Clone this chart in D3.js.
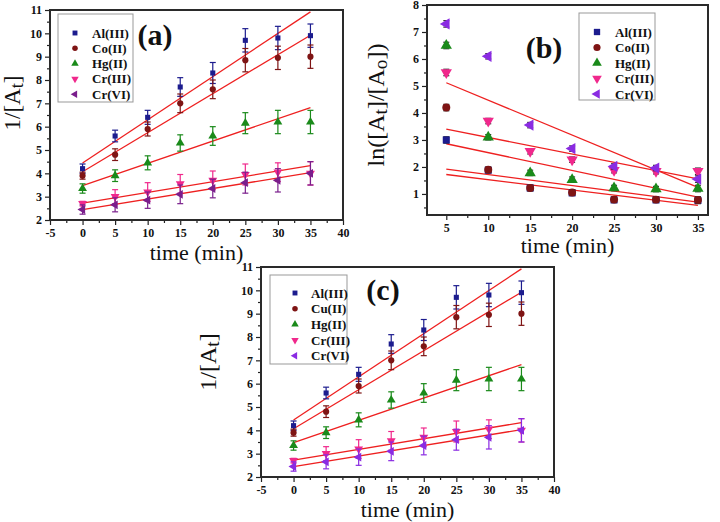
<!DOCTYPE html>
<html>
<head>
<meta charset="utf-8">
<script src="https://cdn.jsdelivr.net/npm/d3@7"></script>
<style>
  body { margin: 0; background: #fff; }
  svg text { font-family: "Liberation Serif", "DejaVu Serif", serif; }
</style>
</head>
<body>
<svg id="chart" width="720" height="522"></svg>
<script>
// ---- data ----
const times = [0, 5, 10, 15, 20, 25, 30, 35];
const timesB = [5, 10, 15, 20, 25, 30, 35];

const namesA = ["Al(III)", "Co(II)", "Hg(II)", "Cr(III)", "Cr(VI)"];
const namesC = ["Al(III)", "Cu(II)", "Hg(II)", "Cr(III)", "Cr(VI)"];

// 1/[At]  (panels a and c)
const invAl  = [4.2, 5.6, 6.4, 7.7, 8.3, 9.7, 9.8, 9.9];
const invCo  = [3.9, 4.8, 5.9, 7.0, 7.6, 8.85, 8.95, 9.0];
const invHg  = [3.35, 3.9, 4.45, 5.3, 5.6, 6.15, 6.2, 6.2];
const invCr3 = [2.7, 3.0, 3.2, 3.55, 3.7, 3.95, 4.05, 4.0];
const invCr6 = [2.45, 2.65, 2.85, 3.1, 3.35, 3.6, 3.7, 4.0];

const errAl  = [0.2, 0.25, 0.3, 0.4, 0.45, 0.5, 0.5, 0.5];
const errCo  = [0.15, 0.25, 0.3, 0.4, 0.4, 0.5, 0.5, 0.5];
const errHg  = [0.2, 0.25, 0.3, 0.35, 0.4, 0.45, 0.5, 0.5];
const errCr3 = [0.1, 0.3, 0.4, 0.4, 0.4, 0.45, 0.4, 0.5];
const errCr6 = [0.2, 0.3, 0.35, 0.4, 0.4, 0.45, 0.5, 0.5];

// fitted lines: value at t = 0 and t = 35
const fitStartA = [4.44, 4.07, 3.47, 2.72, 2.44];
const fitEndA   = [10.92, 9.92, 6.82, 4.33, 4.03];

// ln([At]/[Ao])  (panel b)
const lnAl  = [3.0, 1.88, 1.22, 1.04, 0.78, 0.78, 0.76];
const lnCo  = [4.2, 1.9, 1.22, 1.05, 0.79, 0.79, 0.78];
const lnHg  = [6.5, 3.1, 1.78, 1.53, 1.22, 1.18, 1.2];
const lnCr3 = [5.5, 3.7, 2.58, 2.27, 1.88, 1.84, 1.84];
const lnCr6 = [7.3, 6.1, 3.55, 2.68, 2.02, 1.96, 1.55];
const errB  = [0.12, 0.1, 0.1, 0.1, 0.1, 0.1, 0.12];

// fitted lines: value at t = 5 and t = 35
const fitStartB = [1.72, 1.92, 2.86, 3.4, 5.12];
const fitEndB   = [0.58, 0.7, 0.88, 1.56, 1.24];

// ---- styling ----
const colorsAC = ["#1c1c8e", "#7e1414", "#1a8a1a", "#f0288c", "#7a1e8c"];
const colorsC  = ["#1c1c8e", "#7e1414", "#1a8a1a", "#f0288c", "#8a2be2"];
const colorsB  = ["#1c1c8e", "#7e1414", "#1a8a1a", "#f0288c", "#8a2be2"];
const symbols = [
  {type: d3.symbolSquare, rot: 0},
  {type: d3.symbolCircle, rot: 0},
  {type: d3.symbolTriangle, rot: 0},
  {type: d3.symbolTriangle, rot: 180},
  {type: d3.symbolTriangle, rot: -90}
];

const svg = d3.select("#chart");
const fmt = d => String(d);   // plain hyphen for negatives, like the original

function drawPanel(p) {
  const g = svg.append("g").attr("transform", `translate(${p.x},${p.y})`);
  const x = d3.scaleLinear().domain(p.xDomain).range([0, p.w]);
  const y = d3.scaleLinear().domain(p.yDomain).range([p.h, 0]);

  // minor ticks
  const xAxisMinor = d3.axisBottom(x).tickValues(p.xMinor).tickSize(3).tickFormat("");
  const yAxisMinor = d3.axisLeft(y).tickValues(p.yMinor).tickSize(3).tickFormat("");
  g.append("g").attr("transform", `translate(0,${p.h})`).call(xAxisMinor)
    .call(a => a.select(".domain").remove());
  g.append("g").call(yAxisMinor).call(a => a.select(".domain").remove());

  const xAxis = d3.axisBottom(x).tickValues(p.xTicks).tickSize(5).tickPadding(3).tickFormat(fmt);
  const yAxis = d3.axisLeft(y).tickValues(p.yTicks).tickSize(5).tickPadding(3).tickFormat(fmt);
  const xa = g.append("g").attr("transform", `translate(0,${p.h})`).call(xAxis);
  const ya = g.append("g").call(yAxis);
  [xa, ya].forEach(a => {
    a.select(".domain").remove();
    a.selectAll(".tick text")
      .attr("fill", "#111")
      .style("font-size", "12px")
      .style("font-weight", "bold");
  });
  g.selectAll(".tick line").attr("stroke", "#222").attr("stroke-width", 1.2);

  // fit lines
  g.selectAll(".fit")
    .data(p.fits)
    .enter()
    .append("line")
    .attr("x1", d => x(d.t0)).attr("y1", d => y(d.v0))
    .attr("x2", d => x(d.t1)).attr("y2", d => y(d.v1))
    .attr("stroke", "#ee2020")
    .attr("stroke-width", 1.3);

  // error bars and markers
  p.series.forEach((s, i) => {
    const sg = g.append("g");
    const pts = s.t.map((t, k) => ({t: t, v: s.v[k], e: s.e[k]}));
    const ec = p.errColor || s.color;
    pts.forEach(d => {
      sg.append("line")
        .attr("x1", x(d.t)).attr("x2", x(d.t))
        .attr("y1", y(d.v - d.e)).attr("y2", y(d.v + d.e))
        .attr("stroke", ec).attr("stroke-width", 1.2);
      [d.v - d.e, d.v + d.e].forEach(c => {
        sg.append("line")
          .attr("x1", x(d.t) - p.cap).attr("x2", x(d.t) + p.cap)
          .attr("y1", y(c)).attr("y2", y(c))
          .attr("stroke", ec).attr("stroke-width", 1.2);
      });
    });
    sg.selectAll("path")
      .data(pts)
      .enter()
      .append("path")
      .attr("d", d3.symbol().type(symbols[i].type).size(p.symSize[i]))
      .attr("transform", d => `translate(${x(d.t)},${y(d.v)}) rotate(${symbols[i].rot})`)
      .attr("fill", s.color);
  });

  // frame
  g.append("rect")
    .attr("width", p.w).attr("height", p.h)
    .attr("fill", "none").attr("stroke", "#2a2a2a").attr("stroke-width", 2);

  // legend
  const lg = g.append("g").attr("transform", `translate(${p.legend.x},${p.legend.y})`);
  lg.append("rect")
    .attr("width", p.legend.w).attr("height", p.legend.h)
    .attr("fill", "#fff").attr("stroke", "#999").attr("stroke-width", 1);
  p.series.forEach((s, i) => {
    const ry = p.legend.top + i * p.legend.step;
    lg.append("path")
      .attr("d", d3.symbol().type(symbols[i].type).size(p.legend.sym))
      .attr("transform", `translate(${p.legend.sx},${ry}) rotate(${symbols[i].rot})`)
      .attr("fill", s.color);
    lg.append("text")
      .attr("x", p.legend.tx).attr("y", ry + 4.5)
      .style("font-size", "13px").style("font-weight", "bold")
      .attr("fill", "#111")
      .text(s.name);
  });

  // panel label
  g.append("text")
    .attr("x", p.tag.x).attr("y", p.tag.y)
    .attr("text-anchor", "middle")
    .style("font-size", "30px").style("font-weight", "bold")
    .attr("fill", "#111")
    .text(p.tag.text);

  // x title
  g.append("text")
    .attr("x", p.w / 2).attr("y", p.h + p.xTitleOff)
    .attr("text-anchor", "middle")
    .style("font-size", "22px")
    .attr("fill", "#111")
    .text("time (min)");

  // y title with subscripts
  const yt = g.append("text")
    .attr("transform", `translate(${p.yTitle.x},${p.yTitle.y}) rotate(-90)`)
    .attr("text-anchor", "middle")
    .style("font-size", p.yTitle.size + "px")
    .attr("fill", "#111");
  p.yTitle.parts.forEach(part => {
    if (part.sub) {
      yt.append("tspan").attr("dy", 3).style("font-size", (p.yTitle.size * 0.8) + "px").text(part.s);
    } else {
      yt.append("tspan").attr("dy", part.back ? -3 : 0).text(part.s);
    }
  });
}

function makeSeries(names, colors, t, vals, errs) {
  return names.map((n, i) => ({name: n, color: colors[i], t: t, v: vals[i], e: errs[i]}));
}

const valsInv = [invAl, invCo, invHg, invCr3, invCr6];
const errsInv = [errAl, errCo, errHg, errCr3, errCr6];
const fitsA = fitStartA.map((v, i) => ({t0: 0, t1: 35, v0: v, v1: fitEndA[i]}));
const fitsB = fitStartB.map((v, i) => ({t0: 5, t1: 35, v0: v, v1: fitEndB[i]}));

const xTicksAC = d3.range(-5, 41, 5);
const xMinorAC = d3.range(-2.5, 40, 5);
const yTicksAC = d3.range(2, 12, 1);
const yMinorAC = d3.range(2.5, 11, 1);
const invTitle = [{s: "1/[A"}, {s: "t", sub: true}, {s: "]", back: true}];

const common = {
  w: 293, h: 210,
  xDomain: [-5, 40], yDomain: [2, 11],
  xTicks: xTicksAC, xMinor: xMinorAC, yTicks: yTicksAC, yMinor: yMinorAC,
  fits: fitsA, cap: 3,
  symSize: [26, 30, 34, 34, 34],
  xTitleOff: 40
};

// panel (a)
drawPanel(Object.assign({}, common, {
  x: 50, y: 10,
  series: makeSeries(namesA, colorsAC, times, valsInv, errsInv),
  legend: {x: 8, y: 4, w: 75, h: 88, top: 19, step: 15.3, sx: 17, tx: 34, sym: 24},
  tag: {x: 105, y: 35, text: "(a)"},
  yTitle: {x: -30, y: 93, size: 23, parts: invTitle}
}));

// panel (b)
drawPanel({
  x: 427, y: 5, w: 281, h: 210,
  xDomain: [2.7, 36.2], yDomain: [0.22, 8],
  xTicks: d3.range(5, 36, 5), xMinor: d3.range(7.5, 36, 5),
  yTicks: d3.range(1, 9, 1), yMinor: d3.range(0.5, 8, 1),
  series: makeSeries(namesA, colorsB, timesB, [lnAl, lnCo, lnHg, lnCr3, lnCr6],
                     [errB, errB, errB, errB, errB]),
  errColor: "#333",
  fits: fitsB, cap: 3,
  symSize: [50, 50, 55, 55, 55],
  xTitleOff: 38,
  legend: {x: 152, y: 8, w: 76, h: 87, top: 19, step: 15.5, sx: 18, tx: 36, sym: 40},
  tag: {x: 117, y: 53, text: "(b)"},
  yTitle: {x: -43, y: 100, size: 24,
           parts: [{s: "ln([A"}, {s: "t", sub: true}, {s: "]/[A", back: true},
                   {s: "o", sub: true}, {s: "])", back: true}]}
});

// panel (c)
drawPanel(Object.assign({}, common, {
  x: 261, y: 267,
  series: makeSeries(namesC, colorsC, times, valsInv, errsInv),
  legend: {x: 9, y: 8, w: 77, h: 89, top: 18, step: 15.7, sx: 25, tx: 41, sym: 24},
  tag: {x: 122, y: 33, text: "(c)"},
  yTitle: {x: -45, y: 95, size: 24, parts: invTitle}
}));
</script>
</body>
</html>
